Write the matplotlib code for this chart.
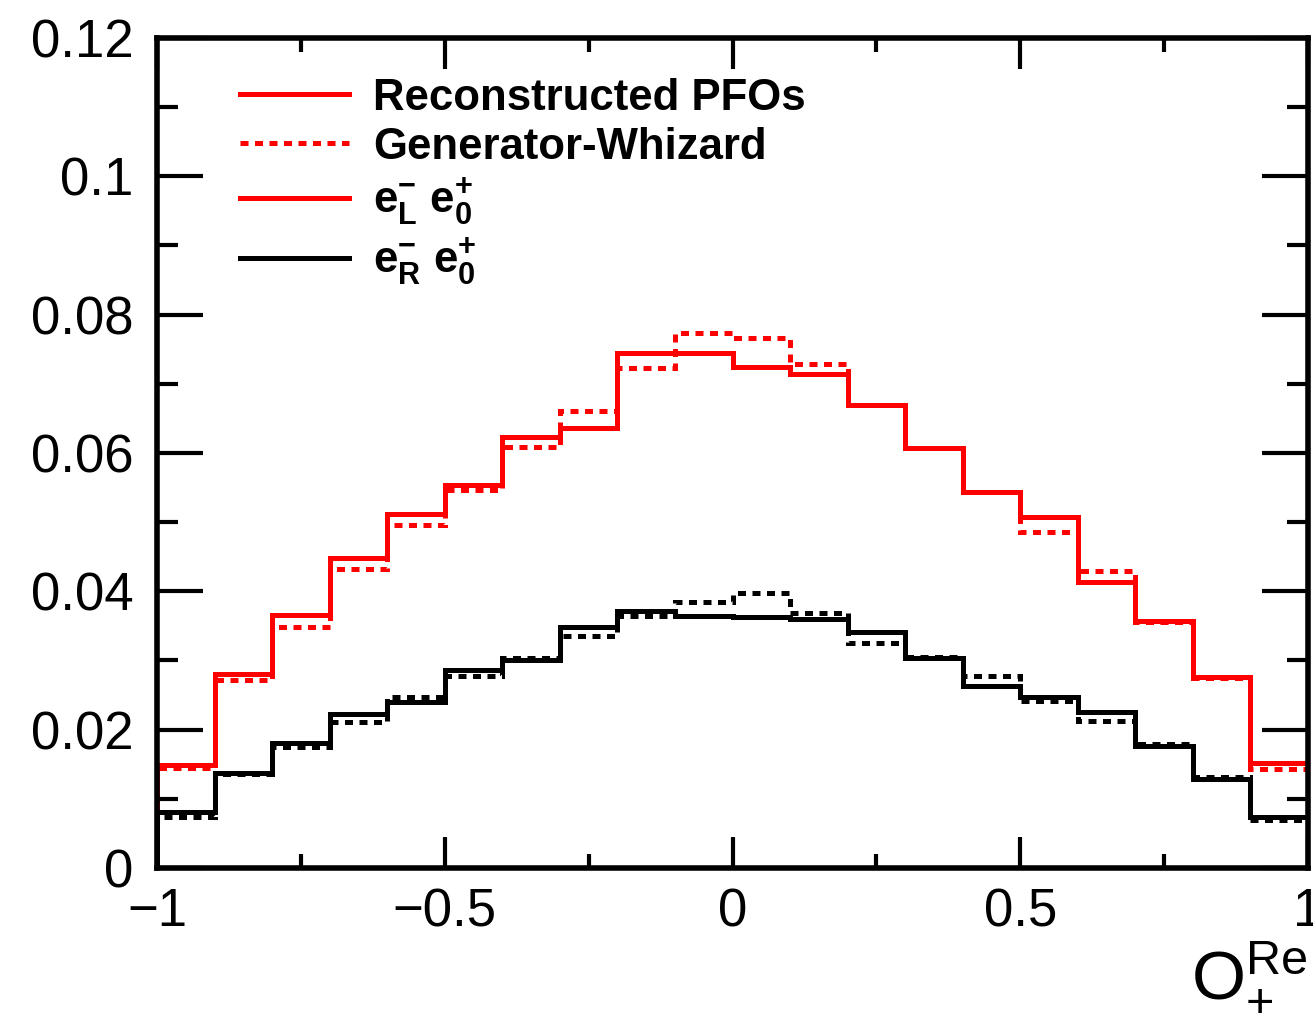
import numpy as np
import matplotlib
matplotlib.use("Agg")
import matplotlib.pyplot as plt
from matplotlib.ticker import MultipleLocator, FixedLocator

plt.rcParams['font.family'] = ['Liberation Sans', 'DejaVu Sans']
plt.rcParams['mathtext.fontset'] = 'custom'
plt.rcParams['mathtext.rm'] = 'Liberation Sans'
plt.rcParams['mathtext.it'] = 'Liberation Sans'
plt.rcParams['mathtext.bf'] = 'Liberation Sans:bold'

# bin edges of O_+^Re, 20 bins from -1 to 1
edges = np.linspace(-1, 1, 21)

# e-_L e+_0, reconstructed PFOs
reco_L = [0.0149, 0.0280, 0.0366, 0.0448, 0.0512, 0.0554, 0.0623, 0.0636, 0.0745, 0.0745,
          0.0724, 0.0714, 0.0669, 0.0607, 0.0544, 0.0508, 0.0413, 0.0357, 0.0276, 0.0152]
# e-_L e+_0, generator (Whizard)
gen_L = [0.0145, 0.0272, 0.0349, 0.0432, 0.0496, 0.0546, 0.0609, 0.0661, 0.0723, 0.0773,
         0.0766, 0.0729, 0.0670, 0.0607, 0.0544, 0.0486, 0.0429, 0.0355, 0.0275, 0.0143]
# e-_R e+_0, reconstructed PFOs
reco_R = [0.0081, 0.0137, 0.0181, 0.0223, 0.0240, 0.0286, 0.0301, 0.0348, 0.0372, 0.0364,
          0.0363, 0.0360, 0.0341, 0.0304, 0.0263, 0.0247, 0.0226, 0.0177, 0.0129, 0.0074]
# e-_R e+_0, generator (Whizard)
gen_R = [0.0074, 0.0136, 0.0175, 0.0211, 0.0247, 0.0278, 0.0304, 0.0335, 0.0364, 0.0385,
         0.0397, 0.0368, 0.0325, 0.0305, 0.0278, 0.0242, 0.0213, 0.0179, 0.0131, 0.0069]

xticks = [-1, -0.5, 0, 0.5, 1]
xlabels = ['\u22121', '\u22120.5', '0', '0.5', '1']
yticks = [0, 0.02, 0.04, 0.06, 0.08, 0.1, 0.12]
ylabels = ['0', '0.02', '0.04', '0.06', '0.08', '0.1', '0.12']

lw = 3.6
dots = (0, (1.6, 1.3))

fig = plt.figure(figsize=(13.13, 10.29), dpi=100)
ax = fig.add_axes([0.1196, 0.1565, 0.8766, 0.8066])

ax.stairs(reco_L, edges, color='#ff0000', lw=lw)
ax.stairs(gen_L, edges, color='#ff0000', lw=lw, ls=dots)
ax.stairs(reco_R, edges, color='black', lw=lw)
ax.stairs(gen_R, edges, color='black', lw=lw, ls=dots)

ax.set_xlim(-1, 1)
ax.set_ylim(0, 0.12)

ax.xaxis.set_major_locator(FixedLocator(xticks))
ax.xaxis.set_minor_locator(MultipleLocator(0.25))
ax.yaxis.set_major_locator(FixedLocator(yticks))
ax.yaxis.set_minor_locator(MultipleLocator(0.01))
ax.set_xticklabels(xlabels)
ax.set_yticklabels(ylabels)

ax.tick_params(which='both', direction='in', top=True, right=True, width=3, colors='black',
               labelsize=38)
ax.tick_params(axis='y', which='major', length=33, pad=17)
ax.tick_params(axis='y', which='minor', length=15)
ax.tick_params(axis='x', which='major', length=22, pad=14)
ax.tick_params(axis='x', which='minor', length=10)
for s in ax.spines.values():
    s.set_linewidth(4)

ax.set_xlabel(r'$\mathrm{O}_{+}^{\mathrm{Re}}$', fontsize=50, loc='right', labelpad=2)

h1, = ax.plot([], [], color='#ff0000', lw=lw)
h2, = ax.plot([], [], color='#ff0000', lw=lw, ls=dots)
h3, = ax.plot([], [], color='#ff0000', lw=lw)
h4, = ax.plot([], [], color='black', lw=lw)
ax.legend([h1, h2, h3, h4],
          ['Reconstructed PFOs', 'Generator-Whizard',
           r'$\mathbf{e^{-}_{L}\ e^{+}_{0}}$', r'$\mathbf{e^{-}_{R}\ e^{+}_{0}}$'],
          loc='upper left', bbox_to_anchor=(0.072, 0.952), frameon=False,
          prop={'weight': 'bold', 'size': 31.5}, handlelength=2.5, handletextpad=0.55,
          labelspacing=0.18, borderpad=0, borderaxespad=0)

fig.savefig('out.png', dpi=100)
